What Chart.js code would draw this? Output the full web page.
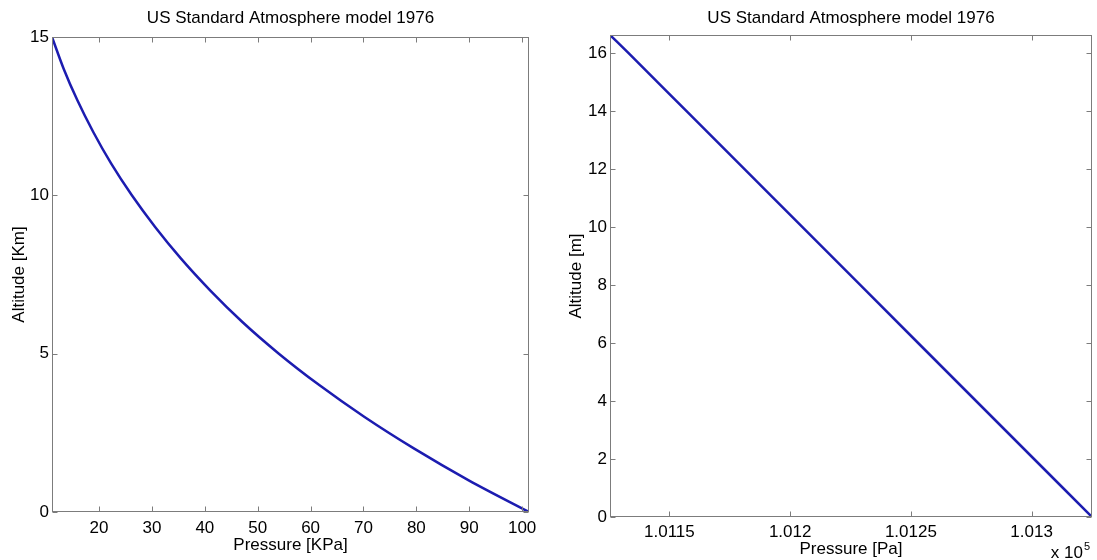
<!DOCTYPE html>
<html>
<head>
<meta charset="utf-8">
<script src="https://cdn.jsdelivr.net/npm/chart.js@4.4.0/dist/chart.umd.min.js"></script>
<style>
html, body { margin: 0; padding: 0; background: #fff; }
#wrap { position: relative; width: 1097px; height: 560px; overflow: hidden; }
.box { position: absolute; top: 0; height: 560px; }
</style>
</head>
<body>
<div id="wrap">
  <div class="box" style="left:0;width:548px"><canvas id="kpa-chart"></canvas></div>
  <div class="box" style="left:548px;width:549px"><canvas id="pa-chart"></canvas></div>
</div>
<script>
// left plot: 0 - 15 km
var altitudeKm = [0, 1, 2, 3, 4, 5, 6, 7, 8, 9, 10, 11, 12, 13, 14, 15];
var pressureKPa = [101.3, 89.9, 79.6, 70.2, 61.7, 54.0, 47.1, 41.0, 35.5, 30.6, 26.2, 22.3, 18.9, 15.9, 13.3, 11.1];
var kpaTicks = [20, 30, 40, 50, 60, 70, 80, 90, 100];
var kmTicks = [0, 5, 10, 15];

// right plot: first metres above sea level
var altitudeM = [0, 2, 4, 6, 8, 10, 12, 14, 16, 16.62];
var pressurePa = [101325, 101301, 101277, 101253, 101229, 101205, 101181, 101157, 101133, 101125.4];
var paTicks = [101150, 101200, 101250, 101300];
var paTickLabels = ['1.0115', '1.012', '1.0125', '1.013'];
var mTicks = [0, 2, 4, 6, 8, 10, 12, 14, 16];

var titleText = 'US Standard Atmosphere model 1976';
var lineColor = '#1c1cb0';
var boxColor = '#7c7c7c';
var fontFamily = '"Liberation Sans", Arial, Helvetica, sans-serif';

Chart.defaults.font.family = fontFamily;
Chart.defaults.color = '#000';

function toPoints(xs, ys) {
    var pts = [];
    for (var i = 0; i < xs.length; i++) {
        pts.push({ x: xs[i], y: ys[i] });
    }
    return pts;
}

// matlab style box with inward tick marks
var matlabBox = {
    id: 'matlabBox',
    afterDraw: function (chart) {
        var ctx = chart.ctx;
        var a = chart.chartArea;
        var len = 5;
        var l = Math.round(a.left) + 0.5, r = Math.round(a.right) - 0.5;
        var t = Math.round(a.top) + 0.5, b = Math.round(a.bottom) - 0.5;
        ctx.save();
        ctx.strokeStyle = boxColor;
        ctx.lineWidth = 1;
        ctx.strokeRect(l, t, r - l, b - t);
        ctx.beginPath();
        chart.scales.x.ticks.forEach(function (tk) {
            var px = Math.round(chart.scales.x.getPixelForValue(tk.value)) + 0.5;
            ctx.moveTo(px, b); ctx.lineTo(px, b - len);
            ctx.moveTo(px, t); ctx.lineTo(px, t + len);
        });
        chart.scales.y.ticks.forEach(function (tk) {
            var py = Math.round(chart.scales.y.getPixelForValue(tk.value)) + 0.5;
            ctx.moveTo(l, py); ctx.lineTo(l + len, py);
            ctx.moveTo(r, py); ctx.lineTo(r - len, py);
        });
        ctx.stroke();

        var ex = chart.options.plugins.matlabBox.exponent;
        if (ex) {
            ctx.fillStyle = '#000';
            ctx.textAlign = 'right';
            ctx.textBaseline = 'alphabetic';
            ctx.font = '17px ' + fontFamily;
            ctx.fillText('x 10', a.right - 9, a.bottom + 41);
            ctx.textAlign = 'left';
            ctx.font = '11px ' + fontFamily;
            ctx.fillText(ex, a.right - 8, a.bottom + 33);
        }
        ctx.restore();
    }
};

function makeChart(id, cfg) {
    return new Chart(document.getElementById(id), {
        type: 'scatter',
        data: {
            datasets: [{
                data: toPoints(cfg.xs, cfg.ys),
                showLine: true,
                borderColor: lineColor,
                borderWidth: 2.5,
                pointRadius: 0,
                cubicInterpolationMode: 'monotone'
            }]
        },
        options: {
            responsive: true,
            maintainAspectRatio: false,
            animation: false,
            layout: { padding: { left: 0, right: cfg.padRight, top: 0, bottom: 0 } },
            plugins: {
                legend: { display: false },
                tooltip: { enabled: false },
                title: {
                    display: true,
                    text: titleText,
                    fullSize: false,
                    font: { size: 17, weight: 'normal' },
                    color: '#000',
                    padding: { top: 7.8, bottom: cfg.titleBottom }
                },
                matlabBox: { exponent: cfg.exponent }
            },
            scales: {
                x: {
                    type: 'linear',
                    min: cfg.xMin,
                    max: cfg.xMax,
                    grid: { display: false, drawTicks: false },
                    border: { display: false },
                    afterBuildTicks: function (s) {
                        s.ticks = cfg.xTicks.map(function (v) { return { value: v }; });
                    },
                    afterFit: function (s) { s.height = cfg.xHeight; },
                    ticks: {
                        autoSkip: false,
                        maxRotation: 0,
                        padding: cfg.xTickPad,
                        font: { size: 17 },
                        callback: function (v, i) {
                            return cfg.xLabels ? cfg.xLabels[i] : String(v);
                        }
                    },
                    title: {
                        display: true,
                        text: cfg.xTitle,
                        font: { size: 17 },
                        padding: { top: 0, bottom: cfg.xTitleBottom }
                    }
                },
                y: {
                    type: 'linear',
                    min: 0,
                    max: cfg.yMax,
                    grid: { display: false, drawTicks: false },
                    border: { display: false },
                    afterBuildTicks: function (s) {
                        s.ticks = cfg.yTicks.map(function (v) { return { value: v }; });
                    },
                    afterFit: function (s) { s.width = cfg.yWidth; },
                    ticks: {
                        autoSkip: false,
                        padding: 3,
                        font: { size: 17 }
                    },
                    title: {
                        display: true,
                        text: cfg.yTitle,
                        font: { size: 17 },
                        padding: { top: cfg.yTitleTop, bottom: 0 }
                    }
                }
            }
        },
        plugins: [matlabBox]
    });
}

makeChart('kpa-chart', {
    xs: pressureKPa, ys: altitudeKm,
    xMin: 11.1, xMax: 101.3, yMax: 15,
    xTicks: kpaTicks, yTicks: kmTicks,
    xTitle: 'Pressure [KPa]', yTitle: 'Altitude [Km]',
    padRight: 19, titleBottom: 8.8,
    xHeight: 48, yWidth: 52,
    xTickPad: 6, xTitleBottom: 4.8, yTitleTop: 8.8
});

makeChart('pa-chart', {
    xs: pressurePa, ys: altitudeM,
    xMin: 101125.4, xMax: 101325, yMax: 16.62,
    xTicks: paTicks, yTicks: mTicks, xLabels: paTickLabels,
    xTitle: 'Pressure [Pa]', yTitle: 'Altitude [m]',
    padRight: 5, titleBottom: 6.8,
    xHeight: 43, yWidth: 62,
    xTickPad: 5, xTitleBottom: 0, yTitleTop: 17.8,
    exponent: '5'
});
</script>
</body>
</html>
